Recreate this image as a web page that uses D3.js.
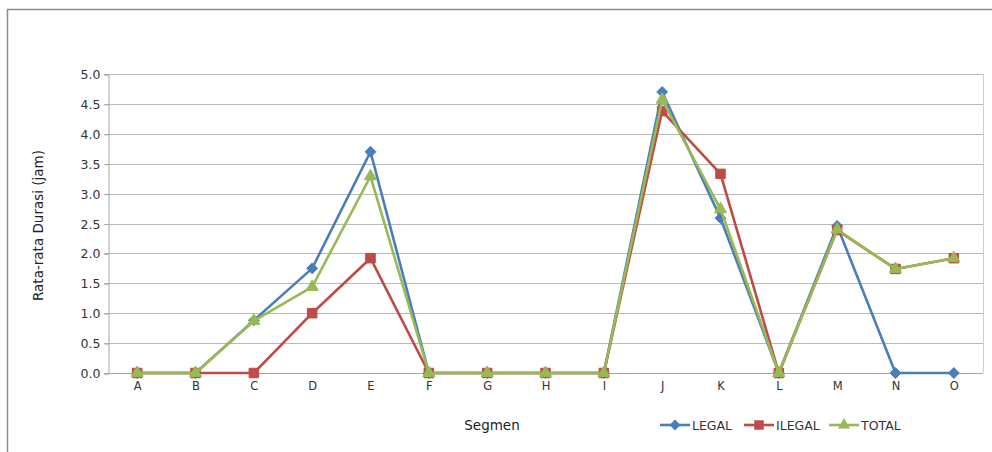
<!DOCTYPE html>
<html>
<head>
<meta charset="utf-8">
<script src="https://cdn.jsdelivr.net/npm/d3@7"></script>
<style>
  body { margin: 0; background: #fff; }
  svg { display: block; font-family: "DejaVu Sans", Verdana, sans-serif; }
</style>
</head>
<body>
<svg id="chart" width="992" height="452"></svg>
<script>
const segments = ["A","B","C","D","E","F","G","H","I","J","K","L","M","N","O"];
const legal  = [0, 0, 0.88, 1.75, 3.70, 0, 0, 0, 0, 4.70, 2.59, 0, 2.46, 0, 0];
const ilegal = [0, 0, 0, 1.00, 1.92, 0, 0, 0, 0, 4.38, 3.33, 0, 2.39, 1.74, 1.92];
const total  = [0, 0, 0.87, 1.44, 3.29, 0, 0, 0, 0, 4.57, 2.74, 0, 2.40, 1.74, 1.92];
const yTicks = [0, 0.5, 1, 1.5, 2, 2.5, 3, 3.5, 4, 4.5, 5];

const series = [
  { name: "LEGAL",  values: legal,  color: "#4a7ebb", symbol: d3.symbolDiamond2, size: 75 },
  { name: "ILEGAL", values: ilegal, color: "#be4b48", symbol: d3.symbolSquare2,  size: 115 },
  { name: "TOTAL",  values: total,  color: "#98b954", symbol: d3.symbolTriangle2, size: 105 }
];

const svg = d3.select("#chart");
const margin = { left: 108, right: 9, top: 74, bottom: 79 };
const width = 992, height = 452;

// outer chart border
svg.append("path")
  .attr("d", "M7.5," + height + "V9.5H" + width)
  .attr("fill", "none")
  .attr("stroke", "#8c8c8c")
  .attr("stroke-width", 1.5);

const x = d3.scalePoint()
  .domain(segments)
  .range([margin.left, width - margin.right])
  .padding(0.5);

const y = d3.scaleLinear()
  .domain([0, 5])
  .range([height - margin.bottom, margin.top]);

// gridlines
svg.append("g")
  .selectAll("line")
  .data(yTicks)
  .enter().append("line")
    .attr("x1", margin.left - 4)
    .attr("x2", width - margin.right)
    .attr("y1", d => Math.round(y(d)) + 0.5)
    .attr("y2", d => Math.round(y(d)) + 0.5)
    .attr("stroke", d => d === 0 ? "#a6a6a6" : "#b8b8b8")
    .attr("stroke-width", 1.2);

// plot area right edge
svg.append("line")
  .attr("x1", width - margin.right + 0.5).attr("x2", width - margin.right + 0.5)
  .attr("y1", margin.top).attr("y2", y(0))
  .attr("stroke", "#d0d0d0");

// y axis
const yAxis = d3.axisLeft(y)
  .tickValues(yTicks)
  .tickFormat(d3.format(".1f"))
  .tickSize(4)
  .tickPadding(4);

const gy = svg.append("g")
  .attr("transform", "translate(" + (margin.left + 0.5) + ",0.5)")
  .call(yAxis);
gy.select(".domain").attr("stroke", "#a6a6a6");
gy.selectAll(".tick line").attr("stroke", "#a6a6a6");
gy.selectAll(".tick text").attr("font-size", 12.5).attr("fill", "#333").attr("font-family", "DejaVu Sans");

// x axis labels
const xAxis = d3.axisBottom(x).tickSize(0).tickPadding(9);
const gx = svg.append("g")
  .attr("transform", "translate(0," + y(0) + ")")
  .call(xAxis);
gx.select(".domain").remove();
gx.selectAll(".tick text").attr("font-size", 11.5).attr("fill", "#333").attr("font-family", "DejaVu Sans");

// axis titles
svg.append("text")
  .attr("transform", "translate(43," + (y(2.5) + 2) + ") rotate(-90)")
  .attr("text-anchor", "middle")
  .attr("font-size", 13.5)
  .attr("fill", "#222")
  .text("Rata-rata Durasi (jam)");

svg.append("text")
  .attr("x", 492)
  .attr("y", 430)
  .attr("text-anchor", "middle")
  .attr("font-size", 13.5)
  .attr("fill", "#222")
  .text("Segmen");

// series
const line = d3.line()
  .x((d, i) => x(segments[i]))
  .y(d => y(d));

series.forEach(s => {
  const g = svg.append("g");
  g.append("path")
    .datum(s.values)
    .attr("d", line)
    .attr("fill", "none")
    .attr("stroke", s.color)
    .attr("stroke-width", 2.6)
    .attr("stroke-linejoin", "round");

  g.selectAll("path.marker")
    .data(s.values)
    .enter().append("path")
      .attr("class", "marker")
      .attr("transform", (d, i) => "translate(" + x(segments[i]) + "," + y(d) + ")")
      .attr("d", d3.symbol().type(s.symbol).size(s.size))
      .attr("fill", s.color)
      .attr("stroke", s.color)
      .attr("stroke-width", 1);
});

// legend
const legendX = [660, 744, 829];
const legend = svg.append("g");
series.forEach((s, i) => {
  const lg = legend.append("g").attr("transform", "translate(" + legendX[i] + ",425)");
  lg.append("line")
    .attr("x1", 0).attr("x2", 30)
    .attr("stroke", s.color)
    .attr("stroke-width", 2.6);
  lg.append("path")
    .attr("transform", "translate(15,0)")
    .attr("d", d3.symbol().type(s.symbol).size(s.size))
    .attr("fill", s.color);
  lg.append("text")
    .attr("x", 32)
    .attr("y", 4.5)
    .attr("font-size", 12.5)
    .attr("fill", "#333")
    .text(s.name);
});
</script>
</body>
</html>
